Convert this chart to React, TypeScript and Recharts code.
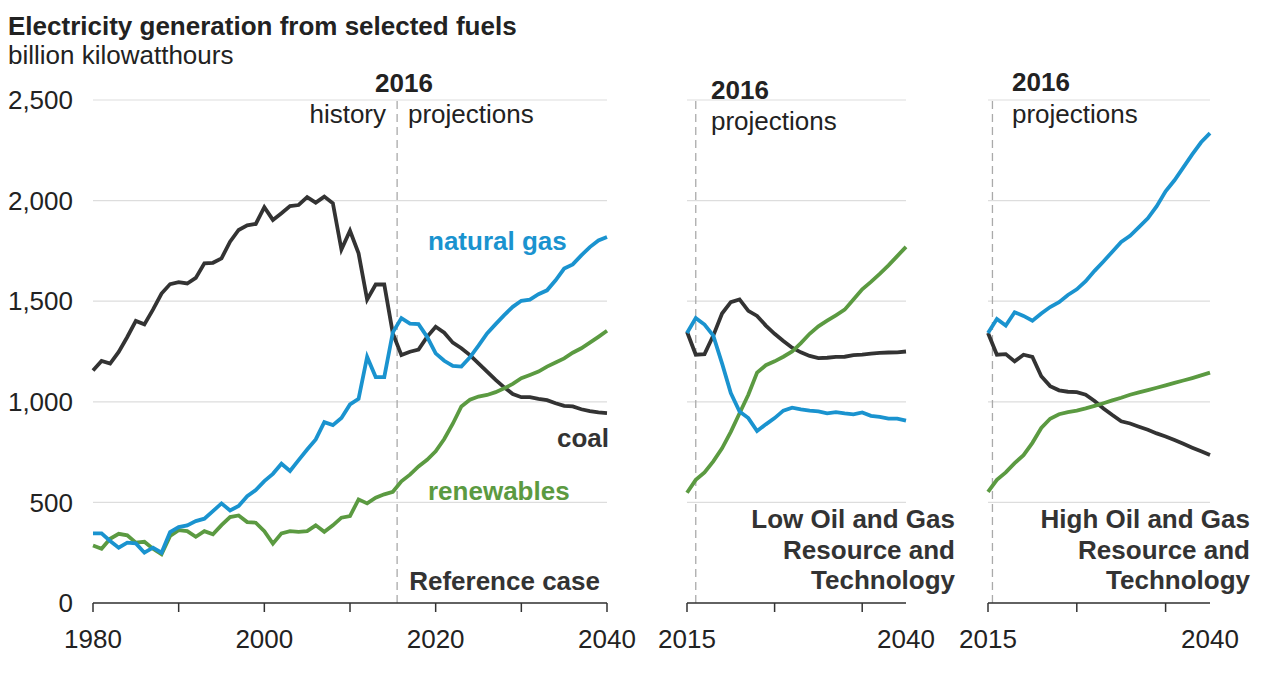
import { LineChart, Line, XAxis, YAxis, CartesianGrid, ReferenceLine } from "recharts";

// Reference case, 1980-2040
const refYears = Array.from({ length: 61 }, (_, i) => 1980 + i);
const coalRef = [
  1156, 1203, 1190, 1248, 1322, 1402, 1385, 1458, 1538, 1585,
  1595, 1588, 1616, 1688, 1691, 1713, 1796, 1854, 1877, 1884,
  1967, 1904, 1937, 1973, 1978, 2017, 1990, 2020, 1987, 1757,
  1850, 1738, 1508, 1583, 1583, 1340, 1232, 1249, 1260, 1323,
  1373, 1343, 1294, 1266, 1232, 1191, 1150, 1109, 1072, 1039,
  1023, 1023, 1015, 1008, 993, 980, 977, 963, 954, 947,
  944,
];
const gasRef = [
  346, 346, 308, 275, 300, 296, 250, 275, 250, 353,
  377, 386, 407, 419, 457, 495, 460, 482, 531, 561,
  606, 642, 692, 656, 710, 763, 813, 899, 884, 920,
  987, 1015, 1223, 1123, 1123, 1345, 1416, 1389, 1386, 1323,
  1241, 1204, 1178, 1175, 1221, 1279, 1340, 1386, 1431, 1472,
  1502, 1508, 1535, 1554, 1604, 1662, 1683, 1728, 1769, 1802,
  1819,
];
const renewRef = [
  286, 270, 319, 344, 336, 300, 304, 270, 242, 333,
  362, 357, 329, 357, 341, 387, 427, 435, 402, 399,
  357, 295, 346, 357, 354, 357, 386, 354, 386, 424,
  432, 515, 495, 523, 540, 553, 605, 638, 679, 712,
  754, 815, 891, 977, 1010, 1026, 1034, 1048, 1067, 1089,
  1117, 1133, 1150, 1175, 1195, 1216, 1244, 1266, 1294, 1323,
  1353,
];

// side cases, 2015-2040
const caseYears = Array.from({ length: 26 }, (_, i) => 2015 + i);
const coalLow = [1348, 1234, 1237, 1329, 1439, 1495, 1509, 1452, 1427, 1379, 1338, 1302, 1269, 1246, 1228, 1217, 1219, 1223, 1224, 1232, 1234, 1239, 1243, 1245, 1246, 1250];
const gasLow = [1342, 1416, 1384, 1329, 1191, 1044, 952, 919, 855, 888, 919, 956, 971, 962, 956, 952, 943, 949, 943, 938, 947, 930, 925, 916, 916, 906];
const renewLow = [548, 612, 649, 704, 769, 851, 943, 1035, 1145, 1182, 1201, 1224, 1250, 1292, 1338, 1375, 1403, 1430, 1458, 1508, 1559, 1596, 1636, 1678, 1724, 1770];

const coalHigh = [1342, 1234, 1237, 1201, 1234, 1223, 1127, 1078, 1057, 1050, 1048, 1035, 1004, 967, 934, 903, 892, 876, 861, 843, 828, 810, 791, 772, 754, 736];
const gasHigh = [1342, 1412, 1379, 1445, 1427, 1403, 1439, 1471, 1495, 1531, 1559, 1599, 1651, 1697, 1746, 1794, 1825, 1868, 1912, 1972, 2046, 2101, 2165, 2230, 2290, 2335];
const renewHigh = [552, 612, 649, 695, 735, 796, 870, 916, 938, 949, 956, 967, 980, 993, 1007, 1020, 1035, 1047, 1058, 1070, 1082, 1094, 1106, 1118, 1131, 1145];

const yTicks = [0, 500, 1000, 1500, 2000, 2500];
const refTicks = [1980, 1990, 2000, 2010, 2020, 2030, 2040];
const refLabels = [1980, 2000, 2020, 2040];
const caseTicks = [2015, 2025, 2035, 2040];
const caseLabels = [2015, 2040];

const COAL = "#333333";
const GAS = "#1a93cf";
const RENEW = "#5b9a41";
const FONT = "'Liberation Sans', Arial, Helvetica, sans-serif";

const zip = (years: number[], coal: number[], gas: number[], renew: number[]) =>
  years.map((year, i) => ({ year, coal: coal[i], gas: gas[i], renew: renew[i] }));

const refData = zip(refYears, coalRef, gasRef, renewRef);
const lowData = zip(caseYears, coalLow, gasLow, renewLow);
const highData = zip(caseYears, coalHigh, gasHigh, renewHigh);

const makeTick = (labels: number[], noLine: number[]) => (props: any) => {
  const { x, y, payload } = props;
  const v = payload.value;
  return (
    <g>
      {!noLine.includes(v) && <line x1={x} x2={x} y1={y} y2={y + 9} stroke="#333" strokeWidth={1.5} />}
      {labels.includes(v) && (
        <text x={x} y={y + 45} textAnchor="middle" fontSize={26} fill="#222" fontFamily={FONT}>
          {v}
        </text>
      )}
    </g>
  );
};

const Panel = ({ data, left, width, margin, domain, ticks, labels, noLine, divider, showY }: any) => (
  <div style={{ position: "absolute", left, top: 0 }}>
    <LineChart width={width} height={680} data={data} margin={margin}>
      <CartesianGrid vertical={false} stroke="#dddddd" strokeWidth={1.2} />
      <XAxis
        dataKey="year"
        type="number"
        domain={domain}
        ticks={ticks}
        interval={0}
        height={77}
        tickSize={0}
        tickMargin={0}
        tickLine={false}
        axisLine={{ stroke: "#333", strokeWidth: 1.5 }}
        tick={makeTick(labels, noLine)}
      />
      {showY ? (
        <YAxis
          domain={[0, 2500]}
          ticks={yTicks}
          width={93}
          tickSize={0}
          tickMargin={20}
          axisLine={false}
          tickLine={false}
          tickFormatter={(v: number) => v.toLocaleString("en-US")}
          tick={{ fontSize: 26, fill: "#222", fontFamily: FONT }}
        />
      ) : (
        <YAxis hide domain={[0, 2500]} ticks={yTicks} />
      )}
      <ReferenceLine x={divider} stroke="#aaaaaa" strokeWidth={1.3} strokeDasharray="8 5" />
      <Line dataKey="coal" stroke={COAL} strokeWidth={3.8} dot={false} isAnimationActive={false} />
      <Line dataKey="renew" stroke={RENEW} strokeWidth={3.8} dot={false} isAnimationActive={false} />
      <Line dataKey="gas" stroke={GAS} strokeWidth={3.8} dot={false} isAnimationActive={false} />
    </LineChart>
  </div>
);

const T = ({ x, y, children, bold, anchor, fill }: any) => (
  <text x={x} y={y} fontSize={26} fontWeight={bold ? 700 : 400} textAnchor={anchor || "start"} fill={fill || "#222"} fontFamily={FONT}>
    {children}
  </text>
);

export default function App() {
  return (
    <div style={{ position: "absolute", left: 0, top: 0, width: 1280, height: 680, background: "#fff", overflow: "hidden" }}>
      <Panel
        data={refData}
        left={0}
        width={640}
        margin={{ top: 100, right: 33, bottom: 0, left: 0 }}
        domain={[1980, 2040]}
        ticks={refTicks}
        labels={refLabels}
        noLine={[]}
        divider={2015.5}
        showY
      />
      <Panel
        data={lowData}
        left={640}
        width={300}
        margin={{ top: 100, right: 34, bottom: 0, left: 47 }}
        domain={[2015, 2040]}
        ticks={caseTicks}
        labels={caseLabels}
        noLine={[2040]}
        divider={2016}
      />
      <Panel
        data={highData}
        left={940}
        width={340}
        margin={{ top: 100, right: 70, bottom: 0, left: 48 }}
        domain={[2015, 2040]}
        ticks={caseTicks}
        labels={caseLabels}
        noLine={[2040]}
        divider={2015.5}
      />
      <svg width={1280} height={680} style={{ position: "absolute", left: 0, top: 0, pointerEvents: "none" }}>
        <T x={8} y={35} bold>Electricity generation from selected fuels</T>
        <T x={8} y={64}>billion kilowatthours</T>

        <T x={404} y={92} bold anchor="middle">2016</T>
        <T x={386} y={123} anchor="end">history</T>
        <T x={408} y={123}>projections</T>

        <T x={711} y={98.5} bold>2016</T>
        <T x={711} y={130}>projections</T>

        <T x={1012} y={91} bold>2016</T>
        <T x={1012} y={123}>projections</T>

        <T x={428} y={250} bold fill={GAS}>natural gas</T>
        <T x={609} y={447} bold anchor="end" fill={COAL}>coal</T>
        <T x={428} y={500} bold fill={RENEW}>renewables</T>
        <T x={600} y={590} bold anchor="end" fill={COAL}>Reference case</T>

        <T x={955} y={528} bold anchor="end" fill={COAL}>Low Oil and Gas</T>
        <T x={955} y={558.5} bold anchor="end" fill={COAL}>Resource and</T>
        <T x={955} y={589} bold anchor="end" fill={COAL}>Technology</T>

        <T x={1250} y={528} bold anchor="end" fill={COAL}>High Oil and Gas</T>
        <T x={1250} y={558.5} bold anchor="end" fill={COAL}>Resource and</T>
        <T x={1250} y={589} bold anchor="end" fill={COAL}>Technology</T>
      </svg>
    </div>
  );
}
